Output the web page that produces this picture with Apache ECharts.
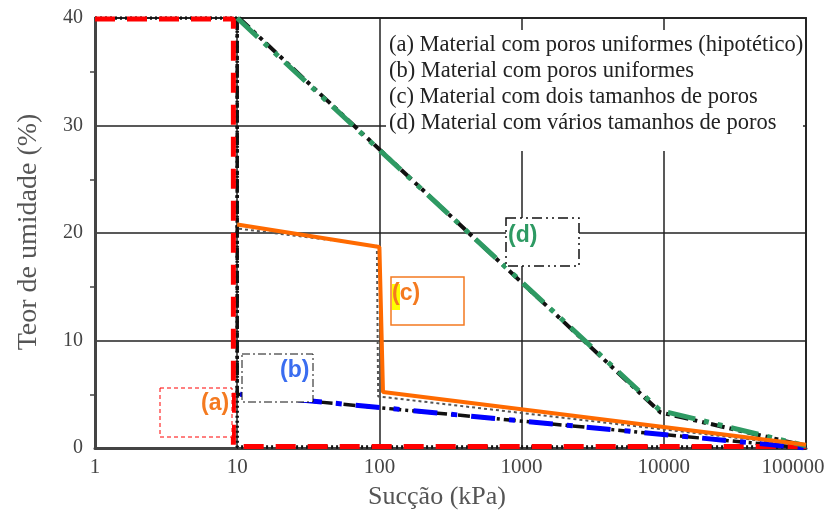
<!DOCTYPE html>
<html><head><meta charset="utf-8">
<script src="https://cdn.jsdelivr.net/npm/echarts@6/dist/echarts.min.js"></script>
<style>html,body{margin:0;padding:0;background:#fff}#c{width:828px;height:512px}</style>
</head><body><div id="c"></div>
<script>
const xTicks = [1, 10, 100, 1000, 10000, 100000];
const yTicks = [0, 10, 20, 30, 40];
const xTitle = 'Sucção (kPa)';
const yTitle = 'Teor de umidade (%)';
const legendLines = [
  '(a) Material com poros uniformes (hipotético)',
  '(b) Material com poros uniformes',
  '(c) Material com dois tamanhos de poros',
  '(d) Material com vários tamanhos de poros'
];
// original black curves
const blackA = [[1, 40], [10, 40], [10, 0.1], [100000, 0.1]];
const blackB = [[10, 40], [10, 5], [100000, 0]];
const blackC = [[10.3, 20.4], [96, 18.8], [98, 4.8], [100000, 0.2]];
const blackD = [[10.3, 40], [9500, 3.3], [100000, 0.2]];
// coloured overlays
const curveA = [[1, 39.9], [9.4, 39.9], [9.4, 0.15], [100000, 0.15]];
const curveB = [[10.5, 5], [100000, 0]];
const curveC = [[10, 20.8], [100, 18.7], [106, 5.2], [100000, 0.3]];
const curveD = [[10, 40], [9400, 3.5], [100000, 0.2]];

const chart = echarts.init(document.getElementById('c'));
const serif = 'Liberation Serif';
const legendGraphics = legendLines.map((t, i) => ({
  type: 'text', left: 389, top: 34 + i * 25.8, z: 20,
  style: { text: t, font: '22.5px "Liberation Serif"', fill: '#222' }
}));
chart.setOption({
  animation: false,
  grid: { left: 95, right: 22, top: 18, bottom: 64, outerBoundsMode: 'none', containLabel: false },
  xAxis: {
    type: 'log', min: 1, max: 100000, logBase: 10,
    axisLine: { show: true, lineStyle: { color: '#444', width: 3 } },
    axisTick: { show: false },
    axisLabel: { fontFamily: serif, fontSize: 21, color: '#444', margin: 9,
      formatter: v => Math.round(v) === xTicks[xTicks.length - 1] ? '{m|' + Math.round(v) + '}' : String(Math.round(v)),
      rich: { m: { fontFamily: serif, fontSize: 21, color: '#444', padding: [0, 26, 0, 0] } } },
    splitLine: { show: true, lineStyle: { color: '#222', width: 1.5 } }
  },
  yAxis: {
    type: 'value', min: 0, max: 40, interval: 10,
    axisLine: { show: true, lineStyle: { color: '#444', width: 3 } },
    axisTick: { show: false },
    minorTick: { show: true, splitNumber: 2, length: 5, lineStyle: { color: '#444', width: 1.5 } },
    axisLabel: { fontFamily: serif, fontSize: 20, color: '#444', margin: 12 },
    splitLine: { show: true, lineStyle: { color: '#222', width: 1.5 } }
  },
  graphic: [
    { type: 'rect', shape: { x: 95, y: 18, width: 711, height: 430 }, z: 0, silent: true,
      style: { fill: 'none', stroke: '#333', lineWidth: 2 } },
    { type: 'rect', shape: { x: 386, y: 30, width: 417, height: 121 }, z: 10,
      style: { fill: '#fff' } },
    ...legendGraphics,
    { type: 'text', x: 437, y: 497, z: 20,
      style: { text: xTitle, font: '26px "Liberation Serif"', fill: '#555', align: 'center', verticalAlign: 'middle' } },
    { type: 'text', x: 29, y: 232, rotation: Math.PI / 2, z: 20,
      style: { text: yTitle, font: '28px "Liberation Serif"', fill: '#555', align: 'center', verticalAlign: 'middle' } },
    // label boxes
    { type: 'rect', shape: { x: 160, y: 388, width: 72, height: 49 }, z: 12,
      style: { fill: '#fff', stroke: '#ff0000', lineWidth: 1, lineDash: [4, 3] } },
    { type: 'text', left: 201, top: 392, z: 13,
      style: { text: '(a)', font: 'bold 23px "Liberation Sans"', fill: '#f47a20' } },
    { type: 'rect', shape: { x: 242, y: 354, width: 71, height: 48 }, z: 12,
      style: { fill: '#fff', stroke: '#111', lineWidth: 1, lineDash: [8, 3, 2, 3] } },
    { type: 'text', left: 280, top: 359, z: 13,
      style: { text: '(b)', font: 'bold 23px "Liberation Sans"', fill: '#3a6df0' } },
    { type: 'rect', shape: { x: 391, y: 277, width: 73, height: 48 }, z: 12,
      style: { fill: '#fff', stroke: '#f47a20', lineWidth: 1.5 } },
    { type: 'rect', shape: { x: 392, y: 284, width: 8, height: 26 }, z: 13,
      style: { fill: '#ffff00' } },
    { type: 'text', left: 392, top: 282, z: 14,
      style: { text: '(c)', font: 'bold 23px "Liberation Sans"', fill: '#f47a20' } },
    { type: 'rect', shape: { x: 506, y: 218, width: 73, height: 48 }, z: 12,
      style: { fill: '#fff', stroke: '#111', lineWidth: 1.5, lineDash: [10, 4, 2, 4, 2, 4] } },
    { type: 'text', left: 508, top: 224, z: 13,
      style: { text: '(d)', font: 'bold 23px "Liberation Sans"', fill: '#2e9a63' } }
  ],
  series: [
    { type: 'line', data: blackA, symbol: 'none', z: 3,
      lineStyle: { color: '#111', width: 3.5, type: [2, 3] } },
    { type: 'line', data: blackB, symbol: 'none', z: 3,
      lineStyle: { color: '#111', width: 3.5, type: [12, 4, 3, 4] } },
    { type: 'line', data: blackC, symbol: 'none', z: 3,
      lineStyle: { color: '#555', width: 2, type: [3, 3] } },
    { type: 'line', data: blackD, symbol: 'none', z: 3,
      lineStyle: { color: '#111', width: 4, type: [14, 5, 4, 5, 4, 5] } },
    { type: 'line', data: curveA, symbol: 'none', z: 5,
      lineStyle: { color: '#ff0000', width: 5, type: [20, 12] } },
    { type: 'line', data: curveB, symbol: 'none', z: 5,
      lineStyle: { color: '#0000ff', width: 5, type: [24, 14, 6, 14] } },
    { type: 'line', data: curveC, symbol: 'none', z: 6,
      lineStyle: { color: '#ff6a00', width: 4 } },
    { type: 'line', data: curveD, symbol: 'none', z: 5,
      lineStyle: { color: '#2e9a63', width: 5, type: [28, 9, 5, 9, 5, 9] } }
  ]
});
</script></body></html>
